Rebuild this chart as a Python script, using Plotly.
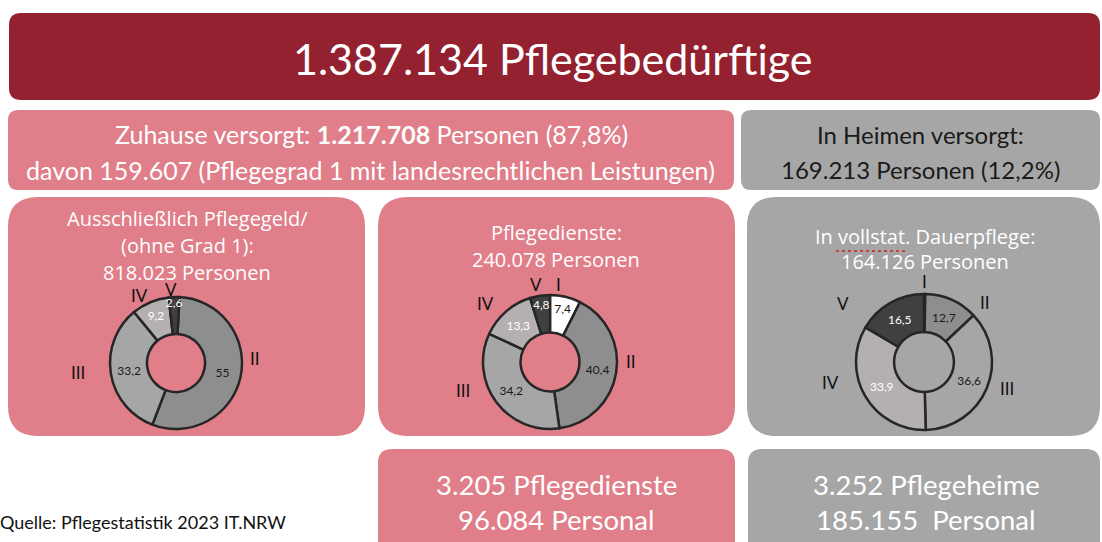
import plotly.graph_objects as go

W, H = 1102, 542

# ---- data ----
total = "1.387.134"
home_total = "1.217.708"
home_share = "87,8%"
home_grade1 = "159.607"
heim_total = "169.213"
heim_share = "12,2%"
geld_total = "818.023"
dienste_total = "240.078"
dauer_total = "164.126"
n_dienste = "3.205"
n_dienste_staff = "96.084"
n_heime = "3.252"
n_heime_staff = "185.155"

grades_geld = ["II", "III", "IV", "V"]
values_geld = [55, 33.2, 9.2, 2.6]

grades_dienste = ["I", "II", "III", "IV", "V"]
values_dienste = [7.4, 40.4, 34.2, 13.3, 4.8]

grades_dauer = ["I", "II", "III", "IV", "V"]
values_dauer = [0.3, 12.7, 36.6, 33.9, 16.5]

# ---- styles ----
RED = "#94212f"
PINK = "#e07e89"
GREY = "#a6a6a6"
grade_colors = {"I": "#ffffff", "II": "#8e8e8e", "III": "#a6a6a6",
                "IV": "#b4b0b0", "V": "#404040"}
grade_text = {"I": "#1a1a1a", "II": "#1a1a1a", "III": "#1a1a1a",
              "IV": "#ffffff", "V": "#ffffff"}


def px(x):
    return x / W


def py(y):
    return 1 - y / H


def rounded(x0, y0, x1, y1, r, color):
    pts = [("M", x0 + r, y0), ("L", x1 - r, y0), ("Q", x1, y0, x1, y0 + r),
           ("L", x1, y1 - r), ("Q", x1, y1, x1 - r, y1), ("L", x0 + r, y1),
           ("Q", x0, y1, x0, y1 - r), ("L", x0, y0 + r), ("Q", x0, y0, x0 + r, y0)]
    path = ""
    for p in pts:
        cmd, coords = p[0], p[1:]
        xy = []
        for i in range(0, len(coords), 2):
            xy.append("%.5f,%.5f" % (px(coords[i]), py(coords[i + 1])))
        path += cmd + " ".join(xy) + " "
    return dict(type="path", path=path + "Z", xref="paper", yref="paper",
                fillcolor=color, line=dict(width=0), layer="below")


def label(txt, x, y, size, color="white", family="Lato"):
    return dict(text=txt, x=px(x), y=py(y), xref="paper", yref="paper",
                showarrow=False, xanchor="center", yanchor="middle",
                font=dict(size=size, color=color, family=family))


def donut(grades, values, cx, cy, r, rotation=0):
    txt = [("%g" % v).replace(".", ",") if v >= 1 else "" for v in values]
    return go.Pie(
        labels=grades, values=values, text=txt, textinfo="text",
        textposition="inside", insidetextorientation="horizontal",
        sort=False, direction="clockwise", rotation=rotation, hole=0.44,
        marker=dict(colors=[grade_colors[g] for g in grades],
                    line=dict(color="#262626", width=2.5)),
        textfont=dict(size=12, family="Lato",
                      color=[grade_text[g] for g in grades]),
        domain=dict(x=[px(cx - r), px(cx + r)], y=[py(cy + r), py(cy - r)]),
        showlegend=False, hoverinfo="label+value")


fig = go.Figure()
fig.add_trace(donut(grades_geld, values_geld, 176, 363, 66, rotation=3))
fig.add_trace(donut(grades_dienste, values_dienste, 550, 362, 67))
fig.add_trace(donut(grades_dauer, values_dauer, 924, 362, 68))

shapes = [
    rounded(9, 13, 1100, 100, 12, RED),
    rounded(8, 110, 734, 190, 10, PINK),
    rounded(741, 110, 1100, 190, 10, GREY),
    rounded(8, 197, 365, 436, 30, PINK),
    rounded(378, 197, 735, 436, 30, PINK),
    rounded(747, 197, 1100, 436, 30, GREY),
    rounded(378, 449, 735, 580, 14, PINK),
    rounded(748, 449, 1100, 580, 14, GREY),
]
# spell-check squiggle under "vollstat."
shapes.append(dict(type="line", xref="paper", yref="paper",
                   x0=px(836), x1=px(905), y0=py(251), y1=py(251),
                   line=dict(color="#d21f1f", width=1.5, dash="dot")))

annotations = [
    label(total + " Pflegebedürftige", 552, 58, 43),
    label("Zuhause versorgt: <b>" + home_total + "</b> Personen (" + home_share + ")",
          371, 134, 25),
    label("davon " + home_grade1 + " (Pflegegrad 1 mit landesrechtlichen Leistungen)",
          370, 170, 25),
    label("In Heimen versorgt:", 920, 134, 24, color="#1a1a1a"),
    label(heim_total + " Personen (" + heim_share + ")", 920, 169, 24, color="#1a1a1a"),
    label("Ausschließlich Pflegegeld/", 187, 218, 20, family="Open Sans"),
    label("(ohne Grad 1):", 187, 245, 20, family="Open Sans"),
    label(geld_total + " Personen", 187, 272, 20, family="Open Sans"),
    label("Pflegedienste:", 556, 232, 20, family="Open Sans"),
    label(dienste_total + " Personen", 556, 259, 20, family="Open Sans"),
    label("In vollstat. Dauerpflege:", 925, 236, 20, family="Open Sans"),
    label(dauer_total + " Personen", 925, 261, 20, family="Open Sans"),
    label(n_dienste + " Pflegedienste", 556, 484, 27.5),
    label(n_dienste_staff + " Personal", 556, 519, 27.5),
    label(n_heime + " Pflegeheime", 926, 484, 27.5),
    label(n_heime_staff + "  Personal", 926, 519, 27.5),
    dict(text="Quelle: Pflegestatistik 2023 IT.NRW", x=px(-2), y=py(522),
         xref="paper", yref="paper", showarrow=False, xanchor="left",
         yanchor="middle", font=dict(size=18, color="#111111", family="Lato")),
]

# grade labels next to the donuts
grade_label_pos = [
    ("IV", 139, 295), ("V", 171, 289), ("II", 255, 358), ("III", 78, 372),
    ("V", 536, 284), ("I", 558, 284), ("IV", 485, 303), ("II", 631, 362),
    ("III", 463, 390),
    ("I", 924, 281), ("II", 985, 302), ("V", 843, 303), ("IV", 830, 382),
    ("III", 1007, 388),
]
for g, x, y in grade_label_pos:
    annotations.append(label(g, x, y, 17, color="#111111"))

fig.update_layout(
    width=W, height=H,
    margin=dict(l=0, r=0, t=0, b=0),
    paper_bgcolor="white", plot_bgcolor="white",
    shapes=shapes, annotations=annotations,
    uniformtext=dict(minsize=11, mode="show"),
)

fig.write_html("out.html", config={"displayModeBar": False},
               post_script="document.body.style.margin='0';")
